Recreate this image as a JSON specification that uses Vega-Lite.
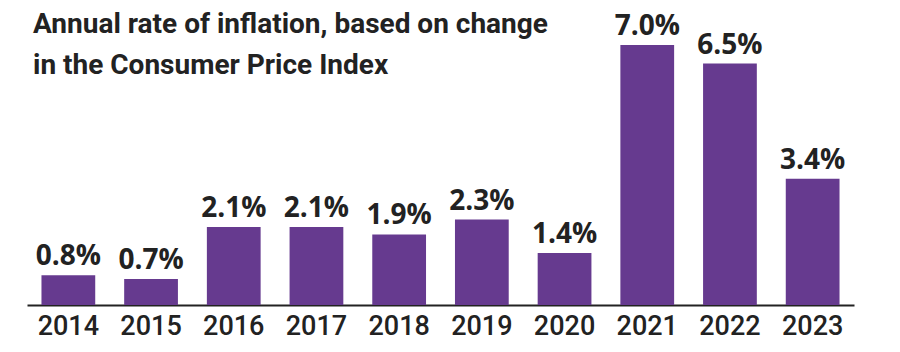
{
  "$schema": "https://vega.github.io/schema/vega-lite/v6.json",
  "width": 827,
  "height": 260,
  "autosize": "none",
  "padding": {"left": 27, "top": 45, "right": 46, "bottom": 47},
  "background": "white",
  "title": {
    "text": ["Annual rate of inflation, based on change", "in the Consumer Price Index"],
    "anchor": "start",
    "frame": "group",
    "font": "Roboto",
    "fontSize": 28,
    "fontWeight": "bold",
    "color": "#222222",
    "lineHeight": 41,
    "dx": 6,
    "dy": 71
  },
  "data": {
    "values": [
      {"year": "2014", "rate": 0.8, "label": "0.8%"},
      {"year": "2015", "rate": 0.7, "label": "0.7%"},
      {"year": "2016", "rate": 2.1, "label": "2.1%"},
      {"year": "2017", "rate": 2.1, "label": "2.1%"},
      {"year": "2018", "rate": 1.9, "label": "1.9%"},
      {"year": "2019", "rate": 2.3, "label": "2.3%"},
      {"year": "2020", "rate": 1.4, "label": "1.4%"},
      {"year": "2021", "rate": 7.0, "label": "7.0%"},
      {"year": "2022", "rate": 6.5, "label": "6.5%"},
      {"year": "2023", "rate": 3.4, "label": "3.4%"}
    ]
  },
  "encoding": {
    "x": {
      "field": "year",
      "type": "ordinal",
      "title": null,
      "scale": {"paddingInner": 0.35, "paddingOuter": 0.175},
      "axis": {
        "labelAngle": 0,
        "ticks": false,
        "domainColor": "#222222",
        "domainWidth": 2,
        "labelFont": "Roboto",
        "labelFontSize": 27,
        "labelFontWeight": 500,
        "labelColor": "#222222",
        "labelPadding": 8
      }
    },
    "y": {
      "field": "rate",
      "type": "quantitative",
      "scale": {"domain": [0, 7], "nice": false},
      "axis": null
    }
  },
  "layer": [
    {"mark": {"type": "bar", "color": "#663a8f"}},
    {
      "mark": {
        "type": "text",
        "baseline": "alphabetic",
        "dy": -10,
        "font": "Open Sans",
        "fontWeight": "bold",
        "fontSize": 28,
        "color": "#222222"
      },
      "encoding": {
        "text": {"field": "label", "type": "nominal"}
      }
    }
  ],
  "config": {"view": {"stroke": null}}
}
